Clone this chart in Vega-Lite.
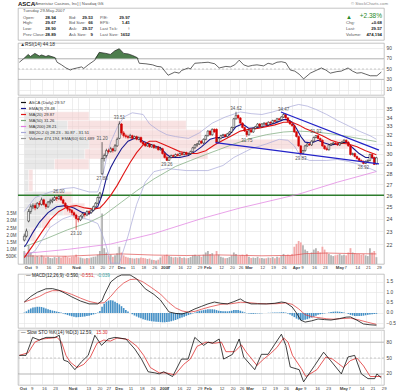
{
"$schema": "https://vega.github.io/schema/vega-lite/v6.json",
"padding": 0,
"background": "white",
"spacing": 0,
"config": {
  "font": "Liberation Sans",
  "view": {"stroke": "#aaaaaa", "strokeWidth": 0.7},
  "axis": {"labelFontSize": 5.5, "labelColor": "#444", "gridColor": "#e2e2e2", "gridWidth": 0.6, "domain": false, "ticks": false, "labelPadding": 2, "tickCount": 60},
  "axisX": {"labelOverlap": false}
},
"resolve": {"scale": {"color": "independent"}, "legend": {"color": "independent"}},
"datasets": {
"hdr": [
{"r":0,"c":8,"t":"ASCA"},{"r":0,"c":9,"t":"[Ameristar Casinos, Inc]  |  Nasdaq GS"},{"r":0,"c":10,"t":"© StockCharts.com"},
{"r":1,"c":0,"t":"Tuesday  29-May-2007"},
{"r":2,"c":0,"t":"Open:"},{"r":2,"c":1,"t":"28.94"},{"r":2,"c":2,"t":"Bid:"},{"r":2,"c":3,"t":"29.53"},{"r":2,"c":4,"t":"P/E:"},{"r":2,"c":5,"t":"29.97"},{"r":2,"c":6,"t":"▲"},{"r":2,"c":7,"t":"+2.38%"},
{"r":3,"c":0,"t":"High:"},{"r":3,"c":1,"t":"29.67"},{"r":3,"c":2,"t":"Bid Size:"},{"r":3,"c":3,"t":"66"},{"r":3,"c":4,"t":"EPS:"},{"r":3,"c":5,"t":"1.41"},{"r":3,"c":6,"t":"Chg:"},{"r":3,"c":7,"t":"+0.68"},
{"r":4,"c":0,"t":"Low:"},{"r":4,"c":1,"t":"28.90"},{"r":4,"c":2,"t":"Ask:"},{"r":4,"c":3,"t":"29.57"},{"r":4,"c":4,"t":"Last Tick:"},{"r":4,"c":5,"t":"↑"},{"r":4,"c":6,"t":"Last:"},{"r":4,"c":7,"t":"29.57"},
{"r":5,"c":0,"t":"Prev Close:"},{"r":5,"c":1,"t":"28.89"},{"r":5,"c":2,"t":"Ask Size:"},{"r":5,"c":3,"t":"9"},{"r":5,"c":4,"t":"Last Size:"},{"r":5,"c":5,"t":"1652"},{"r":5,"c":6,"t":"Volume:"},{"r":5,"c":7,"t":"474,194"}
],
"px": [
{"d":0,"o":22.3,"h":22.8,"l":22.2,"c":22.6,"v":900,"m":0.02},
{"d":1,"o":22.6,"h":23.2,"l":22.5,"c":23.0,"v":700,"m":0.08},
{"d":2,"o":23.8,"h":24.8,"l":23.7,"c":24.6,"v":1300,"m":0.16},
{"d":3,"o":24.6,"h":25.2,"l":24.4,"c":25.0,"v":800,"m":0.22},
{"d":4,"o":25.0,"h":25.3,"l":24.8,"c":25.1,"v":600,"m":0.26},
{"d":5,"o":25.1,"h":25.3,"l":24.7,"c":24.9,"v":500,"m":0.28},
{"d":6,"o":24.9,"h":25.4,"l":24.8,"c":25.3,"v":550,"m":0.3},
{"d":7,"o":25.3,"h":25.5,"l":25.0,"c":25.2,"v":480,"m":0.3},
{"d":8,"o":25.2,"h":25.8,"l":25.1,"c":25.6,"v":600,"m":0.29},
{"d":9,"o":25.6,"h":25.7,"l":25.1,"c":25.2,"v":520,"m":0.26},
{"d":10,"o":25.2,"h":25.3,"l":24.8,"c":25.0,"v":450,"m":0.22},
{"d":11,"o":25.0,"h":25.5,"l":24.9,"c":25.4,"v":500,"m":0.18},
{"d":12,"o":25.4,"h":25.7,"l":25.2,"c":25.5,"v":420,"m":0.15},
{"d":13,"o":25.5,"h":25.8,"l":25.3,"c":25.6,"v":400,"m":0.12},
{"d":14,"o":25.6,"h":25.95,"l":25.5,"c":25.8,"v":480,"m":0.1},
{"d":15,"o":25.8,"h":25.9,"l":25.5,"c":25.7,"v":430,"m":0.07},
{"d":16,"o":25.7,"h":26.0,"l":25.6,"c":25.9,"v":500,"m":0.05},
{"d":17,"o":25.9,"h":25.95,"l":25.5,"c":25.6,"v":450,"m":0.02},
{"d":18,"o":25.6,"h":25.7,"l":25.2,"c":25.3,"v":520,"m":-0.02},
{"d":19,"o":25.3,"h":25.4,"l":24.9,"c":25.0,"v":560,"m":-0.06},
{"d":20,"o":25.0,"h":25.1,"l":24.6,"c":24.8,"v":480,"m":-0.1},
{"d":21,"o":24.8,"h":25.0,"l":24.5,"c":24.7,"v":440,"m":-0.13},
{"d":22,"o":24.7,"h":24.8,"l":24.3,"c":24.5,"v":500,"m":-0.16},
{"d":23,"o":24.5,"h":24.6,"l":24.1,"c":24.3,"v":520,"m":-0.18},
{"d":24,"o":24.3,"h":24.4,"l":23.1,"c":24.0,"v":650,"m":-0.2},
{"d":25,"o":24.0,"h":24.2,"l":23.7,"c":23.9,"v":480,"m":-0.2},
{"d":26,"o":23.9,"h":24.3,"l":23.8,"c":24.2,"v":450,"m":-0.19},
{"d":27,"o":24.2,"h":24.5,"l":24.0,"c":24.4,"v":400,"m":-0.18},
{"d":28,"o":24.4,"h":24.5,"l":24.1,"c":24.3,"v":380,"m":-0.17},
{"d":29,"o":24.3,"h":24.7,"l":24.2,"c":24.6,"v":420,"m":-0.15},
{"d":30,"o":24.6,"h":24.7,"l":24.3,"c":24.5,"v":400,"m":-0.13},
{"d":31,"o":24.5,"h":24.8,"l":24.4,"c":24.7,"v":450,"m":-0.1},
{"d":32,"o":24.7,"h":25.1,"l":24.6,"c":25.0,"v":500,"m":-0.07},
{"d":33,"o":25.0,"h":25.4,"l":24.9,"c":25.3,"v":520,"m":-0.03},
{"d":34,"o":25.3,"h":25.9,"l":25.2,"c":25.8,"v":650,"m":0.02},
{"d":35,"o":25.8,"h":26.3,"l":25.7,"c":26.2,"v":900,"m":0.1},
{"d":36,"o":28.0,"h":31.2,"l":27.88,"c":29.5,"v":3500,"m":0.3},
{"d":37,"o":29.5,"h":30.0,"l":29.2,"c":29.8,"v":1100,"m":0.45},
{"d":38,"o":29.8,"h":30.5,"l":29.6,"c":30.3,"v":800,"m":0.55},
{"d":39,"o":30.3,"h":30.5,"l":30.0,"c":30.2,"v":600,"m":0.6},
{"d":40,"o":30.2,"h":30.7,"l":30.1,"c":30.5,"v":650,"m":0.62},
{"d":41,"o":30.5,"h":30.6,"l":30.1,"c":30.3,"v":500,"m":0.6},
{"d":42,"o":30.3,"h":31.0,"l":30.2,"c":30.8,"v":600,"m":0.55},
{"d":43,"o":30.8,"h":31.7,"l":30.7,"c":31.5,"v":750,"m":0.48},
{"d":44,"o":31.6,"h":33.51,"l":31.5,"c":33.2,"v":1200,"m":0.42},
{"d":45,"o":33.2,"h":33.3,"l":32.0,"c":32.2,"v":800,"m":0.33},
{"d":46,"o":32.2,"h":32.4,"l":31.7,"c":31.9,"v":600,"m":0.24},
{"d":47,"o":31.9,"h":32.1,"l":31.6,"c":31.8,"v":500,"m":0.15},
{"d":48,"o":31.8,"h":32.0,"l":31.5,"c":31.7,"v":450,"m":0.07},
{"d":49,"o":31.7,"h":32.1,"l":31.6,"c":31.9,"v":420,"m":0.0},
{"d":50,"o":31.9,"h":32.0,"l":31.5,"c":31.6,"v":400,"m":-0.06},
{"d":51,"o":31.6,"h":31.9,"l":31.5,"c":31.8,"v":380,"m":-0.12},
{"d":52,"o":31.8,"h":31.9,"l":31.4,"c":31.5,"v":420,"m":-0.17},
{"d":53,"o":31.5,"h":31.8,"l":31.4,"c":31.7,"v":400,"m":-0.22},
{"d":54,"o":31.7,"h":31.8,"l":31.1,"c":31.2,"v":450,"m":-0.26},
{"d":55,"o":31.2,"h":31.3,"l":30.9,"c":31.0,"v":420,"m":-0.3},
{"d":56,"o":31.0,"h":31.1,"l":30.7,"c":30.8,"v":400,"m":-0.33},
{"d":57,"o":30.8,"h":31.1,"l":30.7,"c":31.0,"v":350,"m":-0.36},
{"d":58,"o":31.0,"h":31.1,"l":30.6,"c":30.7,"v":380,"m":-0.38},
{"d":59,"o":30.7,"h":31.0,"l":30.6,"c":30.9,"v":300,"m":-0.4},
{"d":60,"o":30.9,"h":31.0,"l":30.5,"c":30.6,"v":280,"m":-0.41},
{"d":61,"o":30.6,"h":30.8,"l":30.5,"c":30.7,"v":250,"m":-0.42},
{"d":62,"o":30.7,"h":30.8,"l":30.3,"c":30.4,"v":300,"m":-0.43},
{"d":63,"o":30.4,"h":30.7,"l":30.3,"c":30.5,"v":450,"m":-0.44},
{"d":64,"o":30.5,"h":30.6,"l":29.9,"c":30.0,"v":550,"m":-0.45},
{"d":65,"o":30.0,"h":30.1,"l":29.5,"c":29.6,"v":600,"m":-0.45},
{"d":66,"o":29.6,"h":29.8,"l":29.26,"c":29.3,"v":650,"m":-0.44},
{"d":67,"o":29.3,"h":29.7,"l":29.3,"c":29.6,"v":550,"m":-0.42},
{"d":68,"o":29.6,"h":29.9,"l":29.5,"c":29.8,"v":500,"m":-0.4},
{"d":69,"o":29.8,"h":29.9,"l":29.6,"c":29.7,"v":450,"m":-0.37},
{"d":70,"o":29.7,"h":30.0,"l":29.6,"c":29.9,"v":480,"m":-0.34},
{"d":71,"o":29.9,"h":30.0,"l":29.7,"c":29.8,"v":450,"m":-0.3},
{"d":72,"o":29.8,"h":30.1,"l":29.7,"c":30.0,"v":500,"m":-0.26},
{"d":73,"o":30.0,"h":30.1,"l":29.8,"c":29.9,"v":420,"m":-0.22},
{"d":74,"o":29.9,"h":30.2,"l":29.8,"c":30.1,"v":450,"m":-0.18},
{"d":75,"o":30.1,"h":30.2,"l":29.8,"c":29.9,"v":400,"m":-0.14},
{"d":76,"o":29.9,"h":30.1,"l":29.8,"c":30.0,"v":420,"m":-0.1},
{"d":77,"o":30.0,"h":30.3,"l":29.9,"c":30.2,"v":480,"m":-0.06},
{"d":78,"o":30.2,"h":30.7,"l":30.1,"c":30.6,"v":600,"m":-0.02},
{"d":79,"o":30.6,"h":31.0,"l":30.5,"c":30.9,"v":650,"m":0.03},
{"d":80,"o":30.9,"h":31.1,"l":30.7,"c":31.0,"v":550,"m":0.07},
{"d":81,"o":31.0,"h":31.4,"l":30.9,"c":31.3,"v":600,"m":0.1},
{"d":82,"o":31.3,"h":31.4,"l":31.0,"c":31.1,"v":500,"m":0.12},
{"d":83,"o":31.1,"h":31.6,"l":31.0,"c":31.5,"v":650,"m":0.14},
{"d":84,"o":31.5,"h":32.0,"l":31.4,"c":31.9,"v":800,"m":0.16},
{"d":85,"o":31.9,"h":32.5,"l":31.8,"c":32.4,"v":900,"m":0.18},
{"d":86,"o":32.4,"h":32.5,"l":31.9,"c":32.0,"v":700,"m":0.18},
{"d":87,"o":32.0,"h":32.7,"l":31.9,"c":32.6,"v":750,"m":0.18},
{"d":88,"o":32.6,"h":32.7,"l":32.2,"c":32.3,"v":600,"m":0.17},
{"d":89,"o":32.6,"h":32.7,"l":31.0,"c":31.2,"v":900,"m":0.14},
{"d":90,"o":31.2,"h":31.7,"l":31.1,"c":31.6,"v":650,"m":0.11},
{"d":91,"o":31.6,"h":32.0,"l":31.5,"c":31.9,"v":500,"m":0.1},
{"d":92,"o":31.9,"h":32.1,"l":31.8,"c":32.0,"v":450,"m":0.09},
{"d":93,"o":32.0,"h":32.1,"l":31.7,"c":31.8,"v":400,"m":0.08},
{"d":94,"o":31.8,"h":32.2,"l":31.7,"c":32.1,"v":420,"m":0.08},
{"d":95,"o":32.1,"h":32.4,"l":32.0,"c":32.3,"v":480,"m":0.09},
{"d":96,"o":32.3,"h":32.9,"l":32.2,"c":32.8,"v":600,"m":0.11},
{"d":97,"o":32.8,"h":33.9,"l":32.7,"c":33.8,"v":800,"m":0.14},
{"d":98,"o":33.8,"h":34.62,"l":33.7,"c":34.2,"v":700,"m":0.15},
{"d":99,"o":34.2,"h":34.3,"l":33.7,"c":33.9,"v":550,"m":0.14},
{"d":100,"o":33.9,"h":34.0,"l":33.2,"c":33.3,"v":600,"m":0.11},
{"d":101,"o":33.3,"h":33.4,"l":32.7,"c":32.8,"v":650,"m":0.07},
{"d":102,"o":32.8,"h":32.9,"l":32.3,"c":32.4,"v":600,"m":0.03},
{"d":103,"o":32.4,"h":32.5,"l":31.75,"c":32.0,"v":700,"m":-0.01},
{"d":104,"o":32.0,"h":32.6,"l":31.9,"c":32.5,"v":500,"m":-0.03},
{"d":105,"o":32.5,"h":32.6,"l":32.2,"c":32.3,"v":420,"m":-0.04},
{"d":106,"o":32.3,"h":32.8,"l":32.2,"c":32.7,"v":450,"m":-0.04},
{"d":107,"o":32.7,"h":33.0,"l":32.6,"c":32.9,"v":420,"m":-0.03},
{"d":108,"o":32.9,"h":33.3,"l":32.8,"c":33.2,"v":500,"m":-0.02},
{"d":109,"o":33.2,"h":33.3,"l":32.8,"c":32.9,"v":400,"m":-0.02},
{"d":110,"o":32.9,"h":33.3,"l":32.8,"c":33.2,"v":420,"m":-0.01},
{"d":111,"o":33.2,"h":33.4,"l":33.1,"c":33.3,"v":380,"m":0.0},
{"d":112,"o":33.3,"h":33.4,"l":33.0,"c":33.1,"v":400,"m":0.0},
{"d":113,"o":33.1,"h":33.5,"l":33.0,"c":33.4,"v":450,"m":0.01},
{"d":114,"o":33.4,"h":33.5,"l":33.2,"c":33.3,"v":420,"m":0.01},
{"d":115,"o":33.3,"h":33.7,"l":33.2,"c":33.6,"v":480,"m":0.02},
{"d":116,"o":33.6,"h":33.7,"l":33.4,"c":33.5,"v":400,"m":0.02},
{"d":117,"o":33.5,"h":33.9,"l":33.4,"c":33.8,"v":500,"m":0.03},
{"d":118,"o":33.8,"h":33.9,"l":33.6,"c":33.7,"v":450,"m":0.03},
{"d":119,"o":33.7,"h":34.1,"l":33.6,"c":34.0,"v":550,"m":0.04},
{"d":120,"o":34.0,"h":34.47,"l":33.9,"c":34.3,"v":700,"m":0.04},
{"d":121,"o":34.3,"h":34.4,"l":33.8,"c":33.9,"v":600,"m":0.02},
{"d":122,"o":33.9,"h":34.0,"l":33.4,"c":33.5,"v":650,"m":-0.02},
{"d":123,"o":33.5,"h":33.6,"l":33.1,"c":33.2,"v":600,"m":-0.07},
{"d":124,"o":33.2,"h":33.3,"l":32.9,"c":33.0,"v":700,"m":-0.13},
{"d":125,"o":33.0,"h":33.1,"l":32.2,"c":32.3,"v":1200,"m":-0.2},
{"d":126,"o":32.3,"h":32.4,"l":31.7,"c":31.8,"v":1400,"m":-0.27},
{"d":127,"o":31.8,"h":31.9,"l":30.7,"c":30.8,"v":1600,"m":-0.32},
{"d":128,"o":30.8,"h":30.9,"l":29.83,"c":30.0,"v":1500,"m":-0.35},
{"d":129,"o":30.0,"h":30.4,"l":29.9,"c":30.3,"v":1300,"m":-0.35},
{"d":130,"o":30.3,"h":30.9,"l":30.2,"c":30.8,"v":1000,"m":-0.33},
{"d":131,"o":30.8,"h":31.1,"l":30.7,"c":31.0,"v":900,"m":-0.3},
{"d":132,"o":31.0,"h":31.1,"l":30.8,"c":30.9,"v":700,"m":-0.26},
{"d":133,"o":30.9,"h":31.4,"l":30.8,"c":31.3,"v":800,"m":-0.22},
{"d":134,"o":31.3,"h":31.8,"l":31.2,"c":31.7,"v":1000,"m":-0.18},
{"d":135,"o":31.7,"h":31.93,"l":31.6,"c":31.9,"v":1100,"m":-0.13},
{"d":136,"o":31.9,"h":32.0,"l":31.5,"c":31.6,"v":900,"m":-0.09},
{"d":137,"o":31.6,"h":31.7,"l":31.3,"c":31.4,"v":800,"m":-0.06},
{"d":138,"o":31.4,"h":31.5,"l":30.7,"c":30.8,"v":1200,"m":-0.04},
{"d":139,"o":30.8,"h":30.9,"l":30.4,"c":30.5,"v":1000,"m":-0.02},
{"d":140,"o":30.5,"h":30.7,"l":30.3,"c":30.4,"v":800,"m":0.0},
{"d":141,"o":30.4,"h":31.0,"l":30.3,"c":30.9,"v":700,"m":0.03},
{"d":142,"o":30.9,"h":31.1,"l":30.8,"c":31.0,"v":600,"m":0.05},
{"d":143,"o":31.0,"h":31.2,"l":30.9,"c":31.1,"v":550,"m":0.06},
{"d":144,"o":31.1,"h":31.2,"l":30.9,"c":31.0,"v":600,"m":0.07},
{"d":145,"o":31.0,"h":31.1,"l":30.8,"c":30.9,"v":650,"m":0.07},
{"d":146,"o":30.9,"h":31.2,"l":30.8,"c":31.1,"v":700,"m":0.06},
{"d":147,"o":31.1,"h":31.3,"l":31.0,"c":31.2,"v":600,"m":0.05},
{"d":148,"o":31.2,"h":31.5,"l":31.1,"c":31.4,"v":650,"m":0.03},
{"d":149,"o":31.4,"h":31.5,"l":31.1,"c":31.2,"v":600,"m":0.0},
{"d":150,"o":31.2,"h":31.3,"l":30.7,"c":30.8,"v":800,"m":-0.04},
{"d":151,"o":30.8,"h":30.9,"l":29.8,"c":29.9,"v":1100,"m":-0.09},
{"d":152,"o":29.9,"h":30.1,"l":29.8,"c":30.0,"v":800,"m":-0.12},
{"d":153,"o":30.0,"h":30.1,"l":29.6,"c":29.7,"v":750,"m":-0.14},
{"d":154,"o":29.7,"h":29.8,"l":29.4,"c":29.5,"v":700,"m":-0.15},
{"d":155,"o":29.5,"h":29.6,"l":29.2,"c":29.3,"v":700,"m":-0.15},
{"d":156,"o":29.3,"h":29.4,"l":29.1,"c":29.2,"v":650,"m":-0.14},
{"d":157,"o":29.2,"h":29.3,"l":28.92,"c":29.0,"v":700,"m":-0.13},
{"d":158,"o":29.0,"h":29.3,"l":28.95,"c":29.2,"v":600,"m":-0.11},
{"d":159,"o":29.2,"h":29.4,"l":29.1,"c":29.3,"v":550,"m":-0.09},
{"d":160,"o":29.3,"h":30.0,"l":29.2,"c":29.9,"v":1100,"m":-0.07},
{"d":161,"o":29.9,"h":30.0,"l":29.5,"c":29.6,"v":800,"m":-0.06},
{"d":162,"o":29.6,"h":29.7,"l":28.85,"c":28.89,"v":900,"m":-0.05},
{"d":163,"o":28.94,"h":29.67,"l":28.9,"c":29.57,"v":474,"m":-0.04}
],
"rsi": [
{"d":0,"v":63},{"d":2,"v":70},{"d":4,"v":78},{"d":5,"v":74},{"d":7,"v":80},{"d":9,"v":75},{"d":10,"v":77},{"d":12,"v":74},{"d":13,"v":76},{"d":16,"v":72},{"d":17,"v":63},{"d":19,"v":58},{"d":21,"v":52},{"d":23,"v":48},{"d":24,"v":50},{"d":26,"v":52},{"d":28,"v":54},{"d":29,"v":51},{"d":31,"v":58},{"d":34,"v":67},{"d":36,"v":82},{"d":39,"v":80},{"d":41,"v":78},{"d":43,"v":85},{"d":45,"v":89},{"d":47,"v":80},{"d":49,"v":79},{"d":51,"v":76},{"d":53,"v":72},{"d":54,"v":61},{"d":57,"v":60},{"d":60,"v":58},{"d":62,"v":55},{"d":64,"v":54},{"d":67,"v":38},{"d":70,"v":44},{"d":72,"v":42},{"d":73,"v":47},{"d":76,"v":52},{"d":77,"v":50},{"d":79,"v":61},{"d":82,"v":62},{"d":85,"v":63},{"d":88,"v":60},{"d":90,"v":52},{"d":93,"v":55},{"d":95,"v":54},{"d":97,"v":58},{"d":99,"v":67},{"d":101,"v":58},{"d":103,"v":55},{"d":105,"v":57},{"d":107,"v":58},{"d":110,"v":56},{"d":112,"v":61},{"d":114,"v":59},{"d":116,"v":63},{"d":118,"v":64},{"d":120,"v":62},{"d":122,"v":48},{"d":124,"v":46},{"d":126,"v":40},{"d":128,"v":31},{"d":131,"v":42},{"d":134,"v":48},{"d":136,"v":52},{"d":138,"v":48},{"d":140,"v":42},{"d":143,"v":45},{"d":145,"v":46},{"d":148,"v":52},{"d":150,"v":46},{"d":152,"v":42},{"d":154,"v":43},{"d":156,"v":40},{"d":158,"v":37},{"d":161,"v":37},{"d":163,"v":44.18}
],
"macd": [
{"d":0,"a":0.53},{"d":3,"a":0.8},{"d":6,"a":1.0},{"d":10,"a":1.17},{"d":13,"a":1.18},{"d":16,"a":1.1},{"d":19,"a":0.95},{"d":22,"a":0.78},{"d":26,"a":0.58},{"d":30,"a":0.44},{"d":34,"a":0.44},{"d":36,"a":0.6},{"d":37,"a":0.87},{"d":40,"a":1.5},{"d":43,"a":1.75},{"d":45,"a":1.84},{"d":49,"a":1.84},{"d":52,"a":1.65},{"d":56,"a":1.17},{"d":60,"a":0.9},{"d":63,"a":0.63},{"d":67,"a":0.05},{"d":70,"a":-0.02},{"d":73,"a":-0.05},{"d":76,"a":0.05},{"d":79,"a":0.2},{"d":82,"a":0.32},{"d":85,"a":0.44},{"d":88,"a":0.53},{"d":91,"a":0.47},{"d":94,"a":0.44},{"d":97,"a":0.55},{"d":100,"a":0.68},{"d":102,"a":0.55},{"d":105,"a":0.44},{"d":108,"a":0.44},{"d":112,"a":0.44},{"d":116,"a":0.47},{"d":119,"a":0.53},{"d":121,"a":0.5},{"d":124,"a":0.29},{"d":126,"a":0.0},{"d":128,"a":-0.35},{"d":130,"a":-0.44},{"d":133,"a":-0.38},{"d":136,"a":-0.29},{"d":139,"a":-0.32},{"d":142,"a":-0.34},{"d":146,"a":-0.27},{"d":149,"a":-0.2},{"d":151,"a":-0.19},{"d":154,"a":-0.35},{"d":157,"a":-0.53},{"d":160,"a":-0.57},{"d":163,"a":-0.59}
],
"sig": [
{"d":0,"s":0.53},{"d":4,"s":0.68},{"d":7,"s":0.8},{"d":10,"s":0.97},{"d":13,"s":1.08},{"d":17,"s":1.08},{"d":22,"s":0.9},{"d":26,"s":0.72},{"d":30,"s":0.56},{"d":34,"s":0.47},{"d":37,"s":0.5},{"d":40,"s":0.8},{"d":43,"s":1.17},{"d":46,"s":1.45},{"d":49,"s":1.62},{"d":52,"s":1.64},{"d":55,"s":1.5},{"d":59,"s":1.22},{"d":63,"s":0.92},{"d":67,"s":0.5},{"d":70,"s":0.25},{"d":73,"s":0.1},{"d":76,"s":0.04},{"d":79,"s":0.08},{"d":82,"s":0.18},{"d":86,"s":0.3},{"d":91,"s":0.42},{"d":96,"s":0.45},{"d":100,"s":0.52},{"d":104,"s":0.5},{"d":108,"s":0.46},{"d":112,"s":0.44},{"d":117,"s":0.45},{"d":121,"s":0.49},{"d":124,"s":0.42},{"d":127,"s":0.2},{"d":130,"s":-0.08},{"d":133,"s":-0.18},{"d":136,"s":-0.22},{"d":140,"s":-0.28},{"d":143,"s":-0.3},{"d":147,"s":-0.27},{"d":151,"s":-0.25},{"d":155,"s":-0.34},{"d":159,"s":-0.45},{"d":163,"s":-0.55}
],
"stk": [
{"d":0,"k":55},{"d":3,"k":55},{"d":6,"k":89},{"d":9,"k":84},{"d":12,"k":89},{"d":16,"k":89},{"d":18,"k":93},{"d":20,"k":46},{"d":22,"k":43},{"d":25,"k":28},{"d":28,"k":43},{"d":31,"k":55},{"d":34,"k":93},{"d":37,"k":74},{"d":40,"k":86},{"d":43,"k":89},{"d":48,"k":86},{"d":52,"k":67},{"d":55,"k":48},{"d":58,"k":24},{"d":61,"k":22},{"d":63,"k":20},{"d":65,"k":24},{"d":69,"k":15},{"d":73,"k":48},{"d":76,"k":48},{"d":79,"k":89},{"d":83,"k":74},{"d":85,"k":80},{"d":87,"k":78},{"d":90,"k":86},{"d":92,"k":48},{"d":96,"k":57},{"d":99,"k":86},{"d":101,"k":52},{"d":106,"k":28},{"d":109,"k":57},{"d":112,"k":57},{"d":115,"k":76},{"d":118,"k":95},{"d":120,"k":74},{"d":122,"k":33},{"d":126,"k":28},{"d":128,"k":5},{"d":133,"k":36},{"d":137,"k":61},{"d":140,"k":46},{"d":145,"k":20},{"d":148,"k":52},{"d":151,"k":55},{"d":154,"k":20},{"d":157,"k":11},{"d":160,"k":11},{"d":161,"k":20},{"d":163,"k":12.59}
],
"std": [
{"d":0,"v":55},{"d":4,"v":60},{"d":7,"v":80},{"d":10,"v":86},{"d":13,"v":87},{"d":17,"v":89},{"d":19,"v":80},{"d":21,"v":55},{"d":23,"v":42},{"d":26,"v":32},{"d":29,"v":38},{"d":32,"v":52},{"d":35,"v":78},{"d":38,"v":84},{"d":41,"v":82},{"d":44,"v":88},{"d":49,"v":85},{"d":53,"v":72},{"d":56,"v":55},{"d":59,"v":32},{"d":63,"v":22},{"d":66,"v":22},{"d":70,"v":18},{"d":74,"v":38},{"d":77,"v":48},{"d":80,"v":72},{"d":84,"v":80},{"d":88,"v":78},{"d":91,"v":80},{"d":93,"v":62},{"d":97,"v":62},{"d":100,"v":75},{"d":102,"v":62},{"d":107,"v":36},{"d":110,"v":48},{"d":113,"v":58},{"d":116,"v":70},{"d":119,"v":88},{"d":121,"v":80},{"d":123,"v":55},{"d":127,"v":30},{"d":129,"v":15},{"d":134,"v":28},{"d":138,"v":52},{"d":141,"v":48},{"d":146,"v":32},{"d":149,"v":45},{"d":152,"v":50},{"d":155,"v":35},{"d":158,"v":15},{"d":161,"v":15},{"d":163,"v":15.3}
],
"ma": [
{"d":0,"s":"ema","p":21.8},{"d":1,"s":"ema","p":22.0},{"d":4,"s":"ema","p":22.9},{"d":7,"s":"ema","p":23.7},{"d":11,"s":"ema","p":24.5},{"d":15,"s":"ema","p":25.0},{"d":19,"s":"ema","p":25.1},{"d":23,"s":"ema","p":24.9},{"d":27,"s":"ema","p":24.5},{"d":30,"s":"ema","p":24.4},{"d":34,"s":"ema","p":25.0},{"d":36,"s":"ema","p":26.0},{"d":38,"s":"ema","p":27.6},{"d":40,"s":"ema","p":28.6},{"d":42,"s":"ema","p":29.4},{"d":45,"s":"ema","p":30.5},{"d":48,"s":"ema","p":31.3},{"d":52,"s":"ema","p":31.7},{"d":55,"s":"ema","p":31.3},{"d":59,"s":"ema","p":30.9},{"d":63,"s":"ema","p":30.6},{"d":66,"s":"ema","p":29.9},{"d":68,"s":"ema","p":29.6},{"d":72,"s":"ema","p":29.6},{"d":76,"s":"ema","p":29.8},{"d":79,"s":"ema","p":30.2},{"d":82,"s":"ema","p":30.7},{"d":86,"s":"ema","p":31.5},{"d":89,"s":"ema","p":31.7},{"d":92,"s":"ema","p":31.7},{"d":95,"s":"ema","p":32.0},{"d":98,"s":"ema","p":32.9},{"d":101,"s":"ema","p":33.2},{"d":104,"s":"ema","p":32.7},{"d":108,"s":"ema","p":32.8},{"d":112,"s":"ema","p":33.0},{"d":116,"s":"ema","p":33.3},{"d":120,"s":"ema","p":33.7},{"d":122,"s":"ema","p":33.7},{"d":124,"s":"ema","p":33.4},{"d":126,"s":"ema","p":32.7},{"d":128,"s":"ema","p":31.8},{"d":130,"s":"ema","p":31.2},{"d":133,"s":"ema","p":31.1},{"d":136,"s":"ema","p":31.4},{"d":139,"s":"ema","p":31.1},{"d":142,"s":"ema","p":30.9},{"d":145,"s":"ema","p":31.0},{"d":148,"s":"ema","p":31.2},{"d":150,"s":"ema","p":31.1},{"d":152,"s":"ema","p":30.6},{"d":155,"s":"ema","p":30.0},{"d":158,"s":"ema","p":29.6},{"d":160,"s":"ema","p":29.6},{"d":163,"s":"ema","p":29.48},
{"d":0,"s":"ma20","p":21.0},{"d":4,"s":"ma20","p":21.9},{"d":8,"s":"ma20","p":22.9},{"d":12,"s":"ma20","p":23.9},{"d":16,"s":"ma20","p":24.6},{"d":20,"s":"ma20","p":25.0},{"d":24,"s":"ma20","p":25.1},{"d":28,"s":"ma20","p":24.9},{"d":32,"s":"ma20","p":24.8},{"d":35,"s":"ma20","p":24.9},{"d":37,"s":"ma20","p":25.3},{"d":40,"s":"ma20","p":26.0},{"d":43,"s":"ma20","p":26.9},{"d":46,"s":"ma20","p":28.0},{"d":49,"s":"ma20","p":29.1},{"d":52,"s":"ma20","p":30.1},{"d":55,"s":"ma20","p":30.9},{"d":58,"s":"ma20","p":31.3},{"d":61,"s":"ma20","p":31.3},{"d":64,"s":"ma20","p":31.0},{"d":68,"s":"ma20","p":30.6},{"d":72,"s":"ma20","p":30.2},{"d":76,"s":"ma20","p":30.0},{"d":80,"s":"ma20","p":30.0},{"d":84,"s":"ma20","p":30.3},{"d":88,"s":"ma20","p":30.9},{"d":92,"s":"ma20","p":31.4},{"d":96,"s":"ma20","p":31.9},{"d":100,"s":"ma20","p":32.4},{"d":104,"s":"ma20","p":32.6},{"d":108,"s":"ma20","p":32.7},{"d":112,"s":"ma20","p":32.9},{"d":116,"s":"ma20","p":33.1},{"d":120,"s":"ma20","p":33.4},{"d":124,"s":"ma20","p":33.4},{"d":127,"s":"ma20","p":33.1},{"d":130,"s":"ma20","p":32.7},{"d":134,"s":"ma20","p":32.3},{"d":138,"s":"ma20","p":31.9},{"d":142,"s":"ma20","p":31.4},{"d":146,"s":"ma20","p":31.1},{"d":150,"s":"ma20","p":31.0},{"d":154,"s":"ma20","p":30.7},{"d":158,"s":"ma20","p":30.3},{"d":163,"s":"ma20","p":29.87},
{"d":0,"s":"ma50","p":21.8},{"d":10,"s":"ma50","p":22.4},{"d":20,"s":"ma50","p":23.1},{"d":30,"s":"ma50","p":23.7},{"d":37,"s":"ma50","p":24.3},{"d":45,"s":"ma50","p":25.4},{"d":52,"s":"ma50","p":26.4},{"d":60,"s":"ma50","p":27.5},{"d":70,"s":"ma50","p":28.7},{"d":77,"s":"ma50","p":29.3},{"d":84,"s":"ma50","p":29.9},{"d":90,"s":"ma50","p":30.4},{"d":97,"s":"ma50","p":31.0},{"d":105,"s":"ma50","p":31.6},{"d":112,"s":"ma50","p":32.0},{"d":120,"s":"ma50","p":32.3},{"d":127,"s":"ma50","p":32.4},{"d":135,"s":"ma50","p":32.3},{"d":142,"s":"ma50","p":32.1},{"d":150,"s":"ma50","p":31.8},{"d":157,"s":"ma50","p":31.5},{"d":163,"s":"ma50","p":31.26},
{"d":0,"s":"ma200","p":21.3},{"d":20,"s":"ma200","p":21.6},{"d":40,"s":"ma200","p":22.0},{"d":60,"s":"ma200","p":22.8},{"d":82,"s":"ma200","p":24.0},{"d":100,"s":"ma200","p":24.9},{"d":127,"s":"ma200","p":26.1},{"d":145,"s":"ma200","p":27.2},{"d":163,"s":"ma200","p":28.21},
{"d":0,"s":"bb","k":"u","p":24.6},{"d":5,"s":"bb","k":"u","p":25.8},{"d":12,"s":"bb","k":"u","p":26.3},{"d":18,"s":"bb","k":"u","p":26.6},{"d":23,"s":"bb","k":"u","p":26.7},{"d":30,"s":"bb","k":"u","p":26.3},{"d":34,"s":"bb","k":"u","p":26.3},{"d":36,"s":"bb","k":"u","p":27.5},{"d":38,"s":"bb","k":"u","p":29.5},{"d":40,"s":"bb","k":"u","p":31.2},{"d":43,"s":"bb","k":"u","p":32.8},{"d":46,"s":"bb","k":"u","p":34.0},{"d":50,"s":"bb","k":"u","p":34.5},{"d":55,"s":"bb","k":"u","p":34.3},{"d":58,"s":"bb","k":"u","p":33.2},{"d":62,"s":"bb","k":"u","p":32.5},{"d":66,"s":"bb","k":"u","p":32.0},{"d":70,"s":"bb","k":"u","p":31.8},{"d":76,"s":"bb","k":"u","p":31.6},{"d":81,"s":"bb","k":"u","p":32.2},{"d":87,"s":"bb","k":"u","p":33.3},{"d":93,"s":"bb","k":"u","p":34.0},{"d":100,"s":"bb","k":"u","p":34.6},{"d":105,"s":"bb","k":"u","p":34.4},{"d":110,"s":"bb","k":"u","p":34.3},{"d":115,"s":"bb","k":"u","p":34.6},{"d":120,"s":"bb","k":"u","p":35.0},{"d":124,"s":"bb","k":"u","p":35.3},{"d":127,"s":"bb","k":"u","p":35.5},{"d":131,"s":"bb","k":"u","p":35.3},{"d":135,"s":"bb","k":"u","p":34.9},{"d":140,"s":"bb","k":"u","p":34.3},{"d":145,"s":"bb","k":"u","p":33.6},{"d":150,"s":"bb","k":"u","p":33.0},{"d":155,"s":"bb","k":"u","p":32.4},{"d":160,"s":"bb","k":"u","p":31.9},{"d":163,"s":"bb","k":"u","p":31.51},
{"d":0,"s":"bb","k":"l","p":21.0},{"d":5,"s":"bb","k":"l","p":21.5},{"d":12,"s":"bb","k":"l","p":23.3},{"d":18,"s":"bb","k":"l","p":24.0},{"d":23,"s":"bb","k":"l","p":24.3},{"d":30,"s":"bb","k":"l","p":23.9},{"d":34,"s":"bb","k":"l","p":23.6},{"d":36,"s":"bb","k":"l","p":22.8},{"d":38,"s":"bb","k":"l","p":21.8},{"d":40,"s":"bb","k":"l","p":20.6},{"d":44,"s":"bb","k":"l","p":20.6},{"d":48,"s":"bb","k":"l","p":22.6},{"d":52,"s":"bb","k":"l","p":25.2},{"d":56,"s":"bb","k":"l","p":27.2},{"d":60,"s":"bb","k":"l","p":28.2},{"d":66,"s":"bb","k":"l","p":28.5},{"d":75,"s":"bb","k":"l","p":28.3},{"d":85,"s":"bb","k":"l","p":28.3},{"d":92,"s":"bb","k":"l","p":28.8},{"d":97,"s":"bb","k":"l","p":29.6},{"d":105,"s":"bb","k":"l","p":30.5},{"d":112,"s":"bb","k":"l","p":31.0},{"d":118,"s":"bb","k":"l","p":31.5},{"d":122,"s":"bb","k":"l","p":31.4},{"d":125,"s":"bb","k":"l","p":30.8},{"d":128,"s":"bb","k":"l","p":29.7},{"d":132,"s":"bb","k":"l","p":29.3},{"d":140,"s":"bb","k":"l","p":29.3},{"d":145,"s":"bb","k":"l","p":29.4},{"d":150,"s":"bb","k":"l","p":29.2},{"d":155,"s":"bb","k":"l","p":28.9},{"d":160,"s":"bb","k":"l","p":28.5},{"d":163,"s":"bb","k":"l","p":28.23}
],
"vma": [
{"d":0,"v":560},{"d":20,"v":540},{"d":36,"v":650},{"d":45,"v":700},{"d":60,"v":620},{"d":75,"v":590},{"d":90,"v":630},{"d":110,"v":570},{"d":124,"v":600},{"d":130,"v":720},{"d":140,"v":760},{"d":150,"v":730},{"d":163,"v":700}
],
"vbp": [
{"lo":22.2,"hi":23.24,"g":3,"p":5},{"lo":23.24,"hi":24.27,"g":8,"p":12},{"lo":24.27,"hi":25.31,"g":18,"p":28},{"lo":25.31,"hi":26.34,"g":14,"p":22},{"lo":26.34,"hi":27.38,"g":2,"p":4},{"lo":27.38,"hi":28.41,"g":2,"p":4},{"lo":28.41,"hi":29.45,"g":14,"p":30},{"lo":29.45,"hi":30.48,"g":28,"p":85},{"lo":30.48,"hi":31.52,"g":30,"p":150},{"lo":31.52,"hi":32.55,"g":28,"p":82},{"lo":32.55,"hi":33.59,"g":20,"p":75},{"lo":33.59,"hi":34.62,"g":8,"p":30}
],
"tl": [
{"g":"up","d":118.8,"p":34.6},{"g":"up","d":164.2,"p":30.35},{"g":"lo","d":88.5,"p":31.15},{"g":"lo","d":164.2,"p":28.95}
],
"hl": [
{"d":16,"p":26.0,"t":"26.00","k":"h"},{"d":36,"p":31.2,"t":"31.20","k":"h"},{"d":44,"p":33.51,"t":"33.51","k":"h"},{"d":98,"p":34.62,"t":"34.62","k":"h"},{"d":120,"p":34.47,"t":"34.47","k":"h"},{"d":135,"p":31.93,"t":"31.93","k":"h"},
{"d":24,"p":23.1,"t":"23.10","k":"l"},{"d":36,"p":27.88,"t":"27.88","k":"l"},{"d":66,"p":29.26,"t":"29.26","k":"l"},{"d":103,"p":31.75,"t":"31.75","k":"l"},{"d":128,"p":29.83,"t":"29.83","k":"l"},{"d":157,"p":28.92,"t":"28.92","k":"l"}
]
},
"vconcat": [
{
 "width": 366, "height": 32,
 "data": {"name": "hdr"},
 "encoding": {
   "x": {"field": "c", "type": "quantitative", "scale": {"domain": [0,1,2,3,4,5,6,7,8,9,10], "range": [5,38,51,75,82,112,328,364,0,16,370], "zero": false, "nice": false}, "axis": null},
   "y": {"field": "r", "type": "quantitative", "scale": {"domain": [0,1,2,5], "range": [-4,3,9.5,27], "zero": false, "nice": false}, "axis": null},
   "text": {"field": "t"}
 },
 "layer": [
  {"transform": [{"filter": "datum.c==0 || datum.c==2 || datum.c==4 || datum.c==9 || (datum.c==6 && datum.r>2)"}], "mark": {"type": "text", "align": "left", "baseline": "middle", "fontSize": 4.2, "color": "#555"}},
  {"transform": [{"filter": "datum.c==1 || datum.c==3 || datum.c==5 || (datum.c==7 && datum.r>2)"}], "mark": {"type": "text", "align": "right", "baseline": "middle", "fontSize": 4.3, "fontWeight": "bold", "color": "#222"}},
  {"transform": [{"filter": "datum.c==8"}], "mark": {"type": "text", "align": "left", "baseline": "middle", "fontSize": 6, "fontWeight": "bold", "color": "#111"}},
  {"transform": [{"filter": "datum.c==10"}], "mark": {"type": "text", "align": "right", "baseline": "middle", "fontSize": 4.3, "color": "#888"}},
  {"transform": [{"filter": "datum.c==6 && datum.r==2"}], "mark": {"type": "text", "align": "left", "baseline": "middle", "fontSize": 6, "color": "#2a8a2a", "dy": -1}},
  {"transform": [{"filter": "datum.c==7 && datum.r==2"}], "mark": {"type": "text", "align": "right", "baseline": "middle", "fontSize": 6.5, "color": "#2a8a2a", "dy": -2}}
 ]
},
{
 "width": 366, "height": 52,
 "resolve": {"scale": {"y": "independent"}},
 "layer": [
  {"data": {"values": [{"lv": 30}, {"lv": 70}]}, "mark": {"type": "rule", "color": "#999", "strokeWidth": 0.6},
   "encoding": {"y": {"field": "lv", "type": "quantitative", "scale": {"domain": [0, 100], "nice": false}, "axis": null}}},
  {"data": {"values": [{"lv": 50}]}, "mark": {"type": "rule", "color": "#aaa", "strokeWidth": 0.6, "strokeDash": [2, 2]},
   "encoding": {"y": {"field": "lv", "type": "quantitative", "scale": {"domain": [0, 100], "nice": false}, "axis": null}}},
  {"data": {"name": "rsi"}, "mark": {"type": "area", "color": "#4d7d4d", "clip": true},
   "encoding": {
     "x": {"field": "d", "type": "quantitative", "scale": {"domain": [-0.6, 164.2], "nice": false, "zero": false}, "axis": {"title": null, "tickCount": 60, "values": [0,5,10,15,22,25,30,35,39,43,49,54,59,63,66,71,75,80,83,90,95,99,102,109,114,119,124,128,133,138,144,148,153,158,163], "labels": false, "grid": true, "minExtent": 0, "maxExtent": 0}},
     "y": {"field": "v", "type": "quantitative", "scale": {"domain": [70, 100], "range": [15.6, 0], "clamp": true, "nice": false, "zero": false}, "axis": null},
     "y2": {"datum": 70}}},
  {"data": {"name": "rsi"}, "mark": {"type": "line", "color": "#222", "strokeWidth": 0.7},
   "encoding": {
     "x": {"field": "d", "type": "quantitative", "scale": {"domain": [-0.6, 164.2], "nice": false, "zero": false}},
     "y": {"field": "v", "type": "quantitative", "scale": {"domain": [0, 100], "nice": false}, "axis": {"title": null, "tickCount": 20, "orient": "right", "values": [10, 30, 50, 70, 90], "grid": true, "labelFontSize": 4.8}}}},
  {"data": {"values": [{"a": 0.4, "b": 96, "t": "▲RSI(14) 44.18"}]}, "mark": {"type": "text", "align": "left", "baseline": "middle", "fontSize": 4.8, "color": "#333"},
   "encoding": {
     "x": {"field": "a", "type": "quantitative", "scale": {"domain": [-0.6, 164.2], "nice": false, "zero": false}},
     "y": {"field": "b", "type": "quantitative", "scale": {"domain": [0, 100], "nice": false}, "axis": null},
     "text": {"field": "t"}}}
 ]
},
{
 "width": 366, "height": 167,
 "resolve": {"scale": {"y": "independent"}},
 "layer": [
  {"layer": [
    {"data": {"name": "px"}, "mark": {"type": "bar", "width": 1.8},
     "encoding": {
       "x": {"field": "d", "type": "quantitative", "scale": {"domain": [-0.6, 164.2], "nice": false, "zero": false},
             "axis": {"title": null, "tickCount": 60, "values": [0,5,10,15,22,25,30,35,39,43,49,54,59,63,66,71,75,80,83,90,95,99,102,109,114,119,124,128,133,138,144,148,153,158,163],
                      "labelExpr": "['Oct','9','16','23','Nov','6','13','20','27','Dec','11','18','26','2007','8','16','22','29','Feb','12','20','26','Mar','12','19','26','Apr','9','16','23','May','7','14','21','29'][indexof([0,5,10,15,22,25,30,35,39,43,49,54,59,63,66,71,75,80,83,90,95,99,102,109,114,119,124,128,133,138,144,148,153,158,163], datum.value)]",
                      "labelAlign": "left", "labelFontSize": 4.3, "labelOverlap": false, "labelBound": false, "labelFlush": false, "grid": true, "labelPadding": 1, "minExtent": 7, "maxExtent": 7,
                      "labelFontWeight": {"condition": {"test": "indexof([0,22,43,63,83,102,124,144], datum.value) >= 0", "value": "bold"}, "value": "normal"}}},
       "y": {"field": "v", "type": "quantitative", "scale": {"domain": [0, 11600], "nice": false},
             "axis": {"title": null, "tickCount": 20, "orient": "left", "values": [500,1000,1500,2000,2500,3000,3500], "grid": false, "labelFontSize": 4.5, "minExtent": 17, "maxExtent": 17,
                      "labelExpr": "datum.value < 1000 ? datum.value + 'K' : format(datum.value/1000, '.1f') + 'M'"}},
       "color": {"condition": {"test": "datum.c < datum.o", "value": "#f2a9a9"}, "value": "#b4b4b4"}}},
    {"data": {"name": "vma"}, "mark": {"type": "line", "color": "#e05050", "strokeWidth": 0.7},
     "encoding": {
       "x": {"field": "d", "type": "quantitative", "scale": {"domain": [-0.6, 164.2], "nice": false, "zero": false}},
       "y": {"field": "v", "type": "quantitative", "scale": {"domain": [0, 11600], "nice": false}}}}
  ]},
  {"layer": [
    {"data": {"name": "vbp"}, "mark": {"type": "bar", "orient": "horizontal", "color": "#d6d6d6", "opacity": 0.55, "stroke": "white", "strokeWidth": 0.4},
     "encoding": {
       "x": {"field": "g", "type": "quantitative", "scale": {"domain": [-0.6, 164.2], "nice": false, "zero": false}},
       "y": {"field": "lo", "type": "quantitative", "scale": {"type": "log", "domain": [20.9, 35.8], "nice": false, "zero": false}},
       "y2": {"field": "hi"}}},
    {"data": {"name": "vbp"}, "mark": {"type": "rect", "color": "#f3cccc", "opacity": 0.55, "stroke": "white", "strokeWidth": 0.4},
     "encoding": {
       "x": {"field": "g", "type": "quantitative", "scale": {"domain": [-0.6, 164.2], "nice": false, "zero": false}},
       "x2": {"field": "p"},
       "y": {"field": "lo", "type": "quantitative", "scale": {"type": "log", "domain": [20.9, 35.8], "nice": false, "zero": false}},
       "y2": {"field": "hi"}}},
    {"data": {"values": [{"gl": 26}]}, "mark": {"type": "rule", "color": "#2e7d2e", "strokeWidth": 1.4},
     "encoding": {"y": {"field": "gl", "type": "quantitative", "scale": {"type": "log", "domain": [20.9, 35.8], "nice": false, "zero": false}}}},
    {"data": {"name": "ma"}, "transform": [{"filter": "datum.s == 'ma50' || datum.s == 'ma200' || datum.s == 'bb'"}], "mark": {"type": "line", "clip": true, "strokeWidth": 0.7},
     "encoding": {
       "x": {"field": "d", "type": "quantitative", "scale": {"domain": [-0.6, 164.2], "nice": false, "zero": false}},
       "y": {"field": "p", "type": "quantitative", "scale": {"type": "log", "domain": [20.9, 35.8], "nice": false, "zero": false},
             "axis": {"title": null, "tickCount": 40, "orient": "right", "values": [22,23,24,25,26,27,28,29,30,31,32,33,34,35], "format": "d", "grid": true, "labelFontSize": 5.3}},
       "color": {"field": "s", "type": "nominal",
                 "scale": {"domain": ["px", "ema", "ma20", "ma50", "ma200", "bb", "vol"], "range": ["#111111", "#1a1a90", "#e01515", "#79a879", "#e07ae0", "#a8a8d8", "#9a9a9a"]},
                 "legend": {"orient": "top-left", "title": null, "offset": 2, "padding": 0, "rowPadding": 0, "labelFontSize": 4.2, "labelColor": "#333", "symbolType": "stroke", "symbolSize": 25, "symbolStrokeWidth": 1.2, "labelOffset": 2,
                            "labelExpr": "['ASCA (Daily) 29.57','EMA(9) 29.48','MA(20) 29.87','MA(50) 31.26','MA(200) 28.21','BB(20,2.0) 28.23 - 30.87 - 31.51','Volume 474,194, EMA(60) 601,689'][indexof(['px','ema','ma20','ma50','ma200','bb','vol'], datum.label)]"}},
       "detail": {"field": "k"}}},
    {"data": {"name": "ma"}, "transform": [{"filter": "datum.s == 'ema' || datum.s == 'ma20'"}], "mark": {"type": "line", "clip": true, "strokeWidth": 1.1},
     "encoding": {
       "x": {"field": "d", "type": "quantitative", "scale": {"domain": [-0.6, 164.2], "nice": false, "zero": false}},
       "y": {"field": "p", "type": "quantitative", "scale": {"type": "log", "domain": [20.9, 35.8], "nice": false, "zero": false}},
       "color": {"field": "s", "type": "nominal",
                 "scale": {"domain": ["px", "ema", "ma20", "ma50", "ma200", "bb", "vol"], "range": ["#111111", "#1a1a90", "#e01515", "#79a879", "#e07ae0", "#a8a8d8", "#9a9a9a"]}}}},
    {"data": {"name": "px"}, "mark": {"type": "rule", "strokeWidth": 0.6},
     "encoding": {
       "x": {"field": "d", "type": "quantitative", "scale": {"domain": [-0.6, 164.2], "nice": false, "zero": false}},
       "y": {"field": "l", "type": "quantitative", "scale": {"type": "log", "domain": [20.9, 35.8], "nice": false, "zero": false}},
       "y2": {"field": "h"},
       "color": {"condition": {"test": "datum.c < datum.o", "value": "#d40000"}, "value": "#111"}}},
    {"data": {"name": "px"}, "mark": {"type": "bar", "width": 1.8, "strokeWidth": 0.5},
     "encoding": {
       "x": {"field": "d", "type": "quantitative", "scale": {"domain": [-0.6, 164.2], "nice": false, "zero": false}},
       "y": {"field": "o", "type": "quantitative", "scale": {"type": "log", "domain": [20.9, 35.8], "nice": false, "zero": false}},
       "y2": {"field": "c"},
       "fill": {"condition": {"test": "datum.c < datum.o", "value": "#d40000"}, "value": "#ffffff"},
       "stroke": {"condition": {"test": "datum.c < datum.o", "value": "#d40000"}, "value": "#111"}}},
    {"data": {"name": "tl"}, "mark": {"type": "line", "color": "#2323c8", "strokeWidth": 1.2, "clip": true},
     "encoding": {
       "x": {"field": "d", "type": "quantitative", "scale": {"domain": [-0.6, 164.2], "nice": false, "zero": false}},
       "y": {"field": "p", "type": "quantitative", "scale": {"type": "log", "domain": [20.9, 35.8], "nice": false, "zero": false}},
       "detail": {"field": "g"}}},
    {"data": {"name": "hl"}, "transform": [{"filter": "datum.k == 'h'"}], "mark": {"type": "text", "fontSize": 4.5, "color": "#555", "baseline": "bottom", "dy": -1},
     "encoding": {
       "x": {"field": "d", "type": "quantitative", "scale": {"domain": [-0.6, 164.2], "nice": false, "zero": false}},
       "y": {"field": "p", "type": "quantitative", "scale": {"type": "log", "domain": [20.9, 35.8], "nice": false, "zero": false}},
       "text": {"field": "t"}}},
    {"data": {"name": "hl"}, "transform": [{"filter": "datum.k == 'l'"}], "mark": {"type": "text", "fontSize": 4.5, "color": "#555", "baseline": "top", "dy": 1},
     "encoding": {
       "x": {"field": "d", "type": "quantitative", "scale": {"domain": [-0.6, 164.2], "nice": false, "zero": false}},
       "y": {"field": "p", "type": "quantitative", "scale": {"type": "log", "domain": [20.9, 35.8], "nice": false, "zero": false}},
       "text": {"field": "t"}}}
  ]}
 ]
},
{
 "width": 366, "height": 54,
 "layer": [
  {"data": {"name": "px"}, "mark": {"type": "bar", "width": 1.6, "color": "#4490c6"},
   "encoding": {
     "x": {"field": "d", "type": "quantitative", "scale": {"domain": [-0.6, 164.2], "nice": false, "zero": false}, "axis": {"title": null, "tickCount": 60, "values": [0,5,10,15,22,25,30,35,39,43,49,54,59,63,66,71,75,80,83,90,95,99,102,109,114,119,124,128,133,138,144,148,153,158,163], "labels": false, "grid": true, "minExtent": 0, "maxExtent": 0}},
     "y": {"field": "m", "type": "quantitative", "scale": {"domain": [-0.726, 1.887], "nice": false, "zero": false}, "axis": {"title": null, "tickCount": 20, "orient": "right", "values": [-0.5, 0, 0.5, 1, 1.5], "format": ".1f", "grid": true, "labelFontSize": 4.8}}}},
  {"data": {"name": "sig"}, "mark": {"type": "line", "color": "#e03030", "strokeWidth": 0.7},
   "encoding": {
     "x": {"field": "d", "type": "quantitative", "scale": {"domain": [-0.6, 164.2], "nice": false, "zero": false}},
     "y": {"field": "s", "type": "quantitative", "scale": {"domain": [-0.726, 1.887], "nice": false, "zero": false}}}},
  {"data": {"name": "macd"}, "mark": {"type": "line", "color": "#111", "strokeWidth": 0.8},
   "encoding": {
     "x": {"field": "d", "type": "quantitative", "scale": {"domain": [-0.6, 164.2], "nice": false, "zero": false}},
     "y": {"field": "a", "type": "quantitative", "scale": {"domain": [-0.726, 1.887], "nice": false, "zero": false}}}},
  {"data": {"values": [{"a": 0.8, "b": 1.79, "t": "— MACD(12,26,9) -0.590,"}]}, "mark": {"type": "text", "align": "left", "baseline": "middle", "fontSize": 4.6, "color": "#222"},
   "encoding": {"x": {"field": "a", "type": "quantitative", "scale": {"domain": [-0.6, 164.2], "nice": false, "zero": false}}, "y": {"field": "b", "type": "quantitative", "scale": {"domain": [-0.726, 1.887], "nice": false, "zero": false}}, "text": {"field": "t"}}},
  {"data": {"values": [{"a": 26.0, "b": 1.79, "t": "-0.551,"}]}, "mark": {"type": "text", "align": "left", "baseline": "middle", "fontSize": 4.6, "color": "#e03030"},
   "encoding": {"x": {"field": "a", "type": "quantitative", "scale": {"domain": [-0.6, 164.2], "nice": false, "zero": false}}, "y": {"field": "b", "type": "quantitative", "scale": {"domain": [-0.726, 1.887], "nice": false, "zero": false}}, "text": {"field": "t"}}},
  {"data": {"values": [{"a": 33.6, "b": 1.79, "t": "-0.039"}]}, "mark": {"type": "text", "align": "left", "baseline": "middle", "fontSize": 4.6, "color": "#3aa6a6"},
   "encoding": {"x": {"field": "a", "type": "quantitative", "scale": {"domain": [-0.6, 164.2], "nice": false, "zero": false}}, "y": {"field": "b", "type": "quantitative", "scale": {"domain": [-0.726, 1.887], "nice": false, "zero": false}}, "text": {"field": "t"}}}
 ]
},
{
 "width": 366, "height": 55,
 "layer": [
  {"data": {"values": [{"lv": 20}, {"lv": 80}]}, "mark": {"type": "rule", "color": "#999", "strokeWidth": 0.6},
   "encoding": {"y": {"field": "lv", "type": "quantitative", "scale": {"domain": [-1, 103], "nice": false, "zero": false}}}},
  {"data": {"values": [{"lv": 50}]}, "mark": {"type": "rule", "color": "#aaa", "strokeWidth": 0.6, "strokeDash": [2, 2]},
   "encoding": {"y": {"field": "lv", "type": "quantitative", "scale": {"domain": [-1, 103], "nice": false, "zero": false}}}},
  {"data": {"name": "std"}, "mark": {"type": "line", "color": "#e03030", "strokeWidth": 0.8},
   "encoding": {
     "x": {"field": "d", "type": "quantitative", "scale": {"domain": [-0.6, 164.2], "nice": false, "zero": false},
           "axis": {"title": null, "tickCount": 60, "values": [0,5,10,15,22,25,30,35,39,43,49,54,59,63,66,71,75,80,83,90,95,99,102,109,114,119,124,128,133,138,144,148,153,158,163],
                    "labelExpr": "['Oct','9','16','23','Nov','6','13','20','27','Dec','11','18','26','2007','8','16','22','29','Feb','12','20','26','Mar','12','19','26','Apr','9','16','23','May','7','14','21','29'][indexof([0,5,10,15,22,25,30,35,39,43,49,54,59,63,66,71,75,80,83,90,95,99,102,109,114,119,124,128,133,138,144,148,153,158,163], datum.value)]",
                    "labelAlign": "left", "labelFontSize": 4.3, "labelOverlap": false, "labelBound": false, "labelFlush": false, "grid": true, "labelPadding": 1, "minExtent": 6, "maxExtent": 6,
                    "labelFontWeight": {"condition": {"test": "indexof([0,22,43,63,83,102,124,144], datum.value) >= 0", "value": "bold"}, "value": "normal"}}},
     "y": {"field": "v", "type": "quantitative", "scale": {"domain": [-1, 103], "nice": false, "zero": false}, "axis": {"title": null, "tickCount": 20, "orient": "right", "values": [20, 50, 80], "grid": true, "labelFontSize": 4.8}}}},
  {"data": {"name": "stk"}, "mark": {"type": "line", "color": "#111", "strokeWidth": 0.8},
   "encoding": {
     "x": {"field": "d", "type": "quantitative", "scale": {"domain": [-0.6, 164.2], "nice": false, "zero": false}},
     "y": {"field": "k", "type": "quantitative", "scale": {"domain": [-1, 103], "nice": false, "zero": false}}}},
  {"data": {"values": [{"a": 0.8, "b": 97, "t": "— Slow STO %K(14) %D(3) 12.59,"}]}, "mark": {"type": "text", "align": "left", "baseline": "middle", "fontSize": 4.6, "color": "#222"},
   "encoding": {"x": {"field": "a", "type": "quantitative", "scale": {"domain": [-0.6, 164.2], "nice": false, "zero": false}}, "y": {"field": "b", "type": "quantitative", "scale": {"domain": [-1, 103], "nice": false, "zero": false}}, "text": {"field": "t"}}},
  {"data": {"values": [{"a": 34.6, "b": 97, "t": "15.30"}]}, "mark": {"type": "text", "align": "left", "baseline": "middle", "fontSize": 4.6, "color": "#e03030"},
   "encoding": {"x": {"field": "a", "type": "quantitative", "scale": {"domain": [-0.6, 164.2], "nice": false, "zero": false}}, "y": {"field": "b", "type": "quantitative", "scale": {"domain": [-1, 103], "nice": false, "zero": false}}, "text": {"field": "t"}}}
 ]
}
]
}
